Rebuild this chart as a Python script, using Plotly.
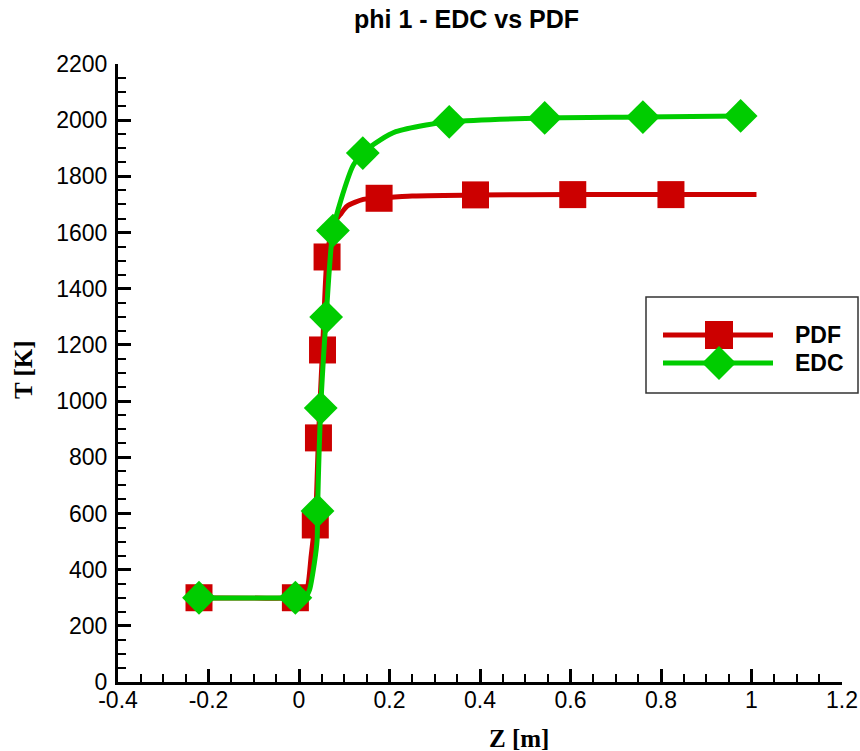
import plotly.graph_objects as go

# ---- data ----
pdf_line_z = [-0.221, -0.008, 0.012, 0.020, 0.027, 0.033, 0.036, 0.043, 0.052, 0.062, 0.070, 0.080,
              0.093, 0.106, 0.142, 0.177, 0.25, 0.390, 0.605, 0.822, 1.011]
pdf_line_t = [300, 300, 305, 345, 450, 530, 560, 869, 1182, 1513, 1590, 1640,
              1668, 1694, 1718, 1722, 1730, 1734, 1735, 1735, 1735]
pdf_mark_z = [-0.221, -0.008, 0.036, 0.043, 0.052, 0.062, 0.177, 0.390, 0.605, 0.822]
pdf_mark_t = [300, 300, 559, 869, 1182, 1513, 1722, 1734, 1735, 1735]

edc_line_z = [-0.221, -0.008, 0.015, 0.023, 0.034, 0.040, 0.041, 0.048, 0.060, 0.075, 0.0927,
              0.12, 0.141, 0.180, 0.214, 0.281, 0.332, 0.543, 0.760, 0.976]
edc_line_t = [300, 300, 305, 327, 424, 505, 609, 975, 1299, 1607, 1716,
              1840, 1883, 1930, 1959, 1983, 1994, 2008, 2011, 2015]
edc_mark_z = [-0.221, -0.008, 0.041, 0.048, 0.060, 0.075, 0.141, 0.332, 0.543, 0.760, 0.976]
edc_mark_t = [300, 300, 609, 975, 1299, 1607, 1883, 1994, 2008, 2011, 2015]

x_tick_vals = [-0.4, -0.2, 0, 0.2, 0.4, 0.6, 0.8, 1, 1.2]
x_tick_text = ["-0.4", "-0.2", "0", "0.2", "0.4", "0.6", "0.8", "1", "1.2"]
y_tick_vals = [0, 200, 400, 600, 800, 1000, 1200, 1400, 1600, 1800, 2000, 2200]
y_tick_text = ["0", "200", "400", "600", "800", "1000", "1200", "1400", "1600", "1800", "2000", "2200"]

series_names = ["PDF", "EDC"]
title_text = "phi 1 - EDC vs PDF"
x_title = "Z [m]"
y_title = "T [K]"

RED = "rgb(204,0,0)"
GREEN = "rgb(0,204,0)"

# ---- layout geometry (pixels) ----
W_IMG, H_IMG = 860, 751
PLOT_L, PLOT_T, PLOT_R, PLOT_B = 118, 64, 842, 682
PW = PLOT_R - PLOT_L
PH = PLOT_B - PLOT_T
L, T = PLOT_L, PLOT_T
R = W_IMG - PLOT_R
B = H_IMG - PLOT_B


def px(x):
    return (x - PLOT_L) / PW


def py(y):
    return (PLOT_B - y) / PH


fig = go.Figure()
fig.add_trace(go.Scatter(x=pdf_line_z, y=pdf_line_t, mode="lines", showlegend=False,
                         line=dict(color=RED, width=5, shape="spline", smoothing=0.7)))
fig.add_trace(go.Scatter(x=pdf_mark_z, y=pdf_mark_t, mode="markers", showlegend=False,
                         marker=dict(symbol="square", size=27, color=RED)))
fig.add_trace(go.Scatter(x=edc_line_z, y=edc_line_t, mode="lines", showlegend=False,
                         line=dict(color=GREEN, width=5, shape="spline", smoothing=0.7)))
fig.add_trace(go.Scatter(x=edc_mark_z, y=edc_mark_t, mode="markers", showlegend=False,
                         marker=dict(symbol="diamond", size=26, color=GREEN)))

axis_common = dict(
    showline=True, linecolor="black", linewidth=3, mirror=False,
    ticks="inside", ticklen=13, tickwidth=3, tickcolor="black",
    showgrid=False, zeroline=False, automargin=False,
    tickfont=dict(family="Liberation Sans, Arial", size=23, color="black"),
)
fig.update_xaxes(range=[-0.4, 1.2], tickmode="array", tickvals=x_tick_vals, ticktext=x_tick_text,
                 ticklabelstandoff=-5,
                 minor=dict(dtick=0.05, tick0=0, ticks="inside", ticklen=8, tickwidth=1.5, tickcolor="black", showgrid=False),
                 **axis_common)
fig.update_yaxes(range=[0, 2200], tickmode="array", tickvals=y_tick_vals, ticktext=y_tick_text,
                 ticklabelstandoff=3,
                 minor=dict(dtick=50, tick0=0, ticks="inside", ticklen=8, tickwidth=1.5, tickcolor="black", showgrid=False),
                 **axis_common)

shapes = []
annotations = []

annotations.append(dict(text=title_text, x=px(466), y=py(19), xref="paper", yref="paper",
                        xanchor="center", yanchor="middle", showarrow=False,
                        font=dict(family="Liberation Sans, Arial", size=25, color="black", weight="bold")))
annotations.append(dict(text=x_title, x=px(519), y=py(738), xref="paper", yref="paper",
                        xanchor="center", yanchor="middle", showarrow=False,
                        font=dict(family="Liberation Serif, Times New Roman", size=25, color="black", weight="bold")))
annotations.append(dict(text=y_title, x=px(23), y=py(370), xref="paper", yref="paper",
                        xanchor="center", yanchor="middle", showarrow=False, textangle=-90,
                        font=dict(family="Liberation Serif, Times New Roman", size=25, color="black", weight="bold")))

# custom legend
shapes.append(dict(type="rect", xref="paper", yref="paper", x0=px(646), x1=px(858), y0=py(393), y1=py(297),
                   line=dict(color="#333333", width=1.5), fillcolor="white", layer="above"))
legend_items = [(series_names[0], RED, "square", 335), (series_names[1], GREEN, "diamond", 363)]
for name, col, sym, yc in legend_items:
    shapes.append(dict(type="line", xref="paper", yref="paper", x0=px(663), x1=px(773), y0=py(yc), y1=py(yc),
                       line=dict(color=col, width=5), layer="above"))
    cx = 719
    if sym == "square":
        h = 14
        shapes.append(dict(type="rect", xref="paper", yref="paper", x0=px(cx - h), x1=px(cx + h),
                           y0=py(yc + h), y1=py(yc - h), line=dict(width=0), fillcolor=col, layer="above"))
    else:
        h = 17
        path = "M {} {} L {} {} L {} {} L {} {} Z".format(px(cx - h), py(yc), px(cx), py(yc - h),
                                                          px(cx + h), py(yc), px(cx), py(yc + h))
        shapes.append(dict(type="path", xref="paper", yref="paper", path=path,
                           line=dict(width=0), fillcolor=col, layer="above"))
    annotations.append(dict(text=name, x=px(793), y=py(yc), xref="paper", yref="paper",
                            xanchor="left", yanchor="middle", showarrow=False,
                            font=dict(family="Liberation Sans, Arial", size=23, color="black", weight="bold")))

fig.update_layout(
    width=W_IMG, height=H_IMG,
    margin=dict(l=L, r=R, t=T, b=B, pad=0, autoexpand=False),
    paper_bgcolor="white", plot_bgcolor="white",
    showlegend=False,
    shapes=shapes, annotations=annotations,
)

fig.write_html(
    "out.html",
    config={"displayModeBar": False},
    post_script="document.body.style.margin='0';document.documentElement.style.overflow='hidden';",
)
